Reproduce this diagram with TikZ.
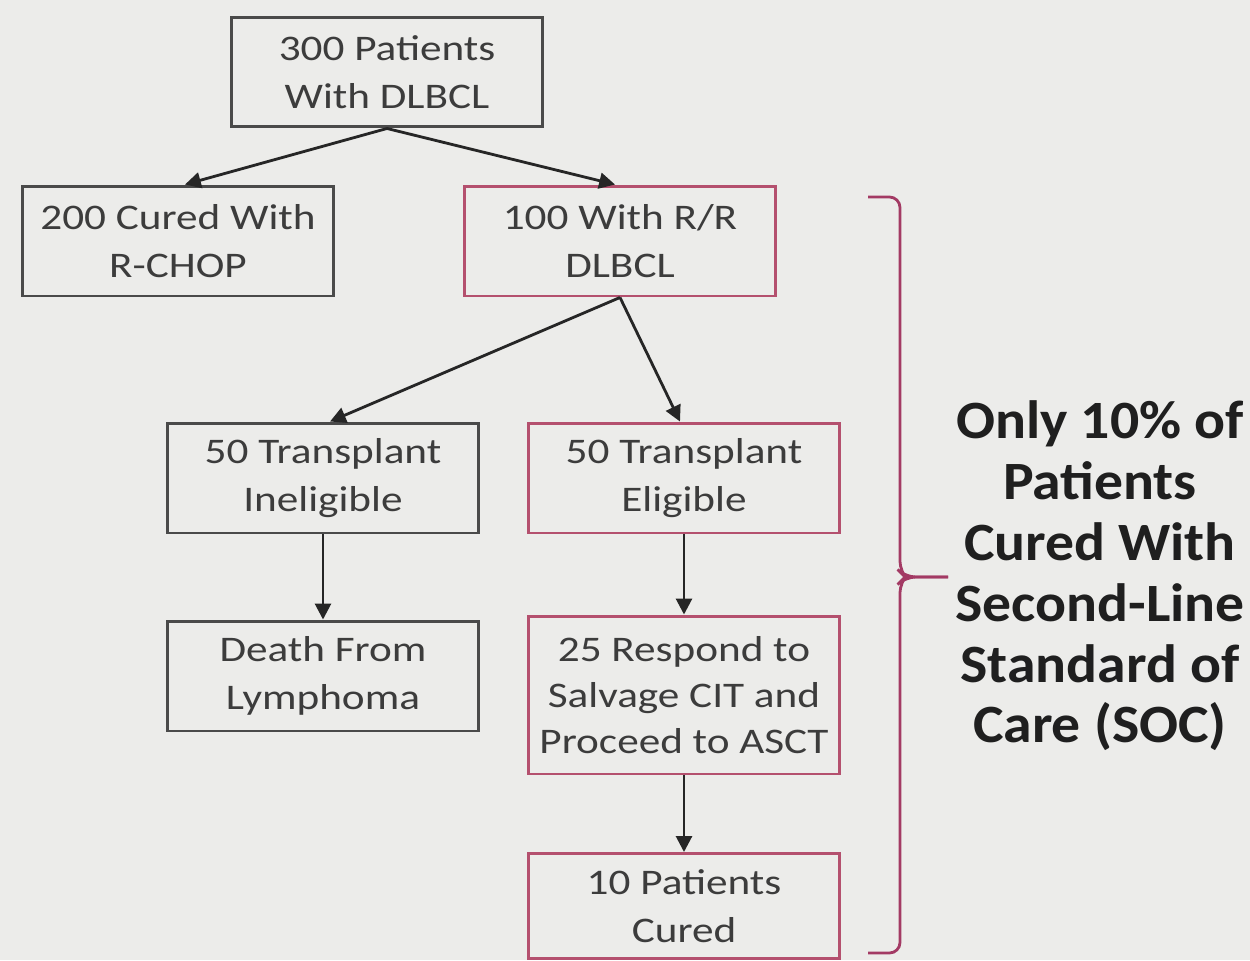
\documentclass[tikz,border=0pt]{standalone}
\usepackage{fontspec}
\setmainfont{Carlito}
\newfontfamily\boxfont[FakeStretch=1.2]{Carlito}
\newfontfamily\sidefont[FakeStretch=1.07]{Carlito}
\usetikzlibrary{arrows.meta,calc}
\definecolor{bg}{HTML}{ECECEA}
\definecolor{boxgray}{HTML}{4A4A4A}
\definecolor{txtgray}{HTML}{3C3C3C}
\definecolor{pinkb}{HTML}{B4506E}
\definecolor{bracec}{HTML}{A33A64}
\begin{document}
\begin{tikzpicture}[x=0.02cm,y=-0.02cm,
  box/.style={draw=boxgray,line width=1.7pt,minimum width=6.22cm,minimum height=2.2cm,
    align=center,inner sep=0pt,text=txtgray,font=\boxfont\fontsize{20.5}{27}\selectfont},
  pbox/.style={box,draw=pinkb},
  arr/.style={line width=1.6pt,draw=black!85,-{Triangle[length=9pt,width=9pt]}}]
\fill[bg] (0,0) rectangle (1250,960);
\useasboundingbox (0,0) rectangle (1250,960);
\node[box] (A) at (387,72) {300 Patients\\With DLBCL};
\node[box] (B) at (178,241) {200 Cured With\\R-CHOP};
\node[pbox] (C) at (620,241) {100 With R/R\\DLBCL};
\node[box] (D) at (323,478) {50 Transplant\\Ineligible};
\node[pbox] (E) at (684,478) {50 Transplant\\Eligible};
\node[box] (F) at (323,676) {Death From\\Lymphoma};
\node[pbox,minimum height=3.16cm,font=\boxfont\fontsize{20.5}{26}\selectfont] (G) at (684,695) {25 Respond to\\Salvage CIT and\\Proceed to ASCT};
\node[pbox,minimum height=2.1cm] (H) at (684,906) {10 Patients\\Cured};
\draw[arr] (A.south) -- ($(B.north)+(7,0)$);
\draw[arr] (A.south) -- ($(C.north)+(-5,0)$);
\draw[arr] (C.south) -- ($(D.north)+(7,0)$);
\draw[arr] (C.south) -- ($(E.north)+(-4,0)$);
\draw[arr] (D.south) -- (F.north);
\draw[arr] (E.south) -- (G.north);
\draw[arr] (G.south) -- (H.north);
\coordinate (bt) at (868,197);
\coordinate (bb) at (868,953);
\coordinate (bm) at (948,577);
\draw[bracec,line width=1.6pt,rounded corners=6pt] (bt) -- (900,197) -- (900,572) -- (905,577) -- (bm);
\draw[bracec,line width=1.6pt,rounded corners=6pt] (bb) -- (900,953) -- (900,582) -- (905,577) -- (bm);
\node[align=center,text=black!88,font=\sidefont\bfseries\fontsize{30.7}{34.6}\selectfont] (T) at (1100,576) {Only 10\% of\\Patients\\Cured With\\Second-Line\\Standard of\\Care (SOC)};
\end{tikzpicture}
\end{document}
